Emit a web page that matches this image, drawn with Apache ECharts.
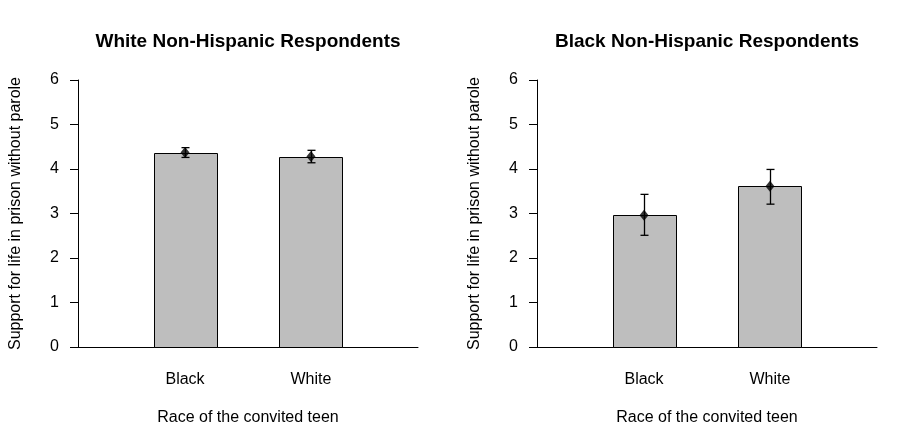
<!DOCTYPE html>
<html>
<head>
<meta charset="utf-8">
<script src="https://cdn.jsdelivr.net/npm/echarts@6/dist/echarts.min.js"></script>
<style>html,body{margin:0;padding:0;background:#fff}#c{width:917px;height:444px}</style>
</head>
<body>
<div id="c"></div>
<script>
const categories = ['Black', 'White'];
const panelTitles = ['White Non-Hispanic Respondents', 'Black Non-Hispanic Respondents'];
const yTicks = [0, 1, 2, 3, 4, 5, 6];
// White Non-Hispanic respondents
const whiteMean = [4.37, 4.28];
const whiteLow  = [4.26, 4.14];
const whiteHigh = [4.48, 4.42];
// Black Non-Hispanic respondents
const blackMean = [2.96, 3.61];
const blackLow  = [2.51, 3.21];
const blackHigh = [3.43, 3.99];

const FONT = "'Liberation Sans', Arial, sans-serif";
const panels = [
  {mean: whiteMean, low: whiteLow, high: whiteHigh},
  {mean: blackMean, low: blackLow, high: blackHigh}
];
// bar slot positions in barplot units (width 1, space 1)
const pos = categories.map((c, i) => 1.5 + 2 * i);

const grids = [
  {left: 78, right: 499, top: 80, bottom: 97, outerBoundsMode: 'none', containLabel: false},
  {left: 537, right: 40, top: 80, bottom: 97, outerBoundsMode: 'none', containLabel: false}
];

const option = {
  animation: false,
  backgroundColor: '#fff',
  title: panelTitles.map((t, i) => ({
    text: t,
    left: i === 0 ? 248 : 707,
    top: 32,
    textAlign: 'center',
    padding: 0,
    textStyle: {fontFamily: FONT, fontWeight: 'bold', fontSize: 19, color: '#000'}
  })),
  grid: grids,
  xAxis: grids.map((g, i) => ({
    type: 'value',
    gridIndex: i,
    min: -0.2,
    max: 5.2,
    splitLine: {show: false},
    axisLine: {show: true, onZero: false, lineStyle: {color: '#000', width: 1}},
    axisTick: {show: false},
    axisLabel: {
      show: true,
      customValues: pos,
      formatter: v => categories[Math.round((v - 1.5) / 2)] || '',
      margin: 25,
      fontFamily: FONT, fontSize: 16, color: '#000'
    },
    name: 'Race of the convited teen',
    nameLocation: 'middle',
    nameGap: 63,
    nameTextStyle: {fontFamily: FONT, fontSize: 16, color: '#000'}
  })),
  yAxis: grids.map((g, i) => ({
    type: 'value',
    gridIndex: i,
    min: 0,
    max: 6,
    interval: 1,
    splitLine: {show: false},
    axisLine: {show: true, onZero: false, lineStyle: {color: '#000', width: 1}},
    axisTick: {show: true, length: 8, inside: false, lineStyle: {color: '#000'}},
    axisLabel: {
      margin: 19,
      formatter: v => yTicks.includes(v) ? String(v) : '',
      fontFamily: FONT, fontSize: 16, color: '#000'
    },
    name: 'Support for life in prison without parole',
    nameLocation: 'middle',
    nameGap: 54,
    nameRotate: 90,
    nameTextStyle: {fontFamily: FONT, fontSize: 16, color: '#000'}
  })),
  series: []
};

panels.forEach((p, i) => {
  const rows = categories.map((c, k) => [pos[k], p.mean[k], p.low[k], p.high[k]]);
  option.series.push({
    type: 'custom',
    xAxisIndex: i, yAxisIndex: i,
    data: rows,
    renderItem: (params, api) => {
      const x = api.value(0), y = api.value(1);
      const tl = api.coord([x - 0.5, y]);
      const br = api.coord([x + 0.5, 0]);
      return {
        type: 'rect',
        shape: {x: Math.round(tl[0]) + 0.5, y: Math.round(tl[1]) + 0.5,
                width: Math.round(br[0] - tl[0]), height: Math.round(br[1] - tl[1])},
        style: {fill: '#bebebe', stroke: '#000', lineWidth: 1}
      };
    }
  });
  option.series.push({
    type: 'custom',
    xAxisIndex: i, yAxisIndex: i,
    data: rows,
    z: 5,
    renderItem: (params, api) => {
      const x = api.value(0);
      const lo = api.coord([x, api.value(2)]);
      const hi = api.coord([x, api.value(3)]);
      const cx = Math.round(lo[0]) + 0.5;
      const st = {stroke: '#000', lineWidth: 1.3};
      return {
        type: 'group',
        children: [
          {type: 'line', shape: {x1: cx, y1: lo[1], x2: cx, y2: hi[1]}, style: st},
          {type: 'line', shape: {x1: cx - 4, y1: lo[1], x2: cx + 4, y2: lo[1]}, style: st},
          {type: 'line', shape: {x1: cx - 4, y1: hi[1], x2: cx + 4, y2: hi[1]}, style: st}
        ]
      };
    }
  });
  option.series.push({
    type: 'scatter',
    xAxisIndex: i, yAxisIndex: i,
    data: rows.map(r => [r[0], r[1]]),
    symbol: 'diamond',
    symbolSize: [9, 11],
    itemStyle: {color: '#000'},
    z: 6
  });
});

const chart = echarts.init(document.getElementById('c'));
chart.setOption(option);
</script>
</body>
</html>
